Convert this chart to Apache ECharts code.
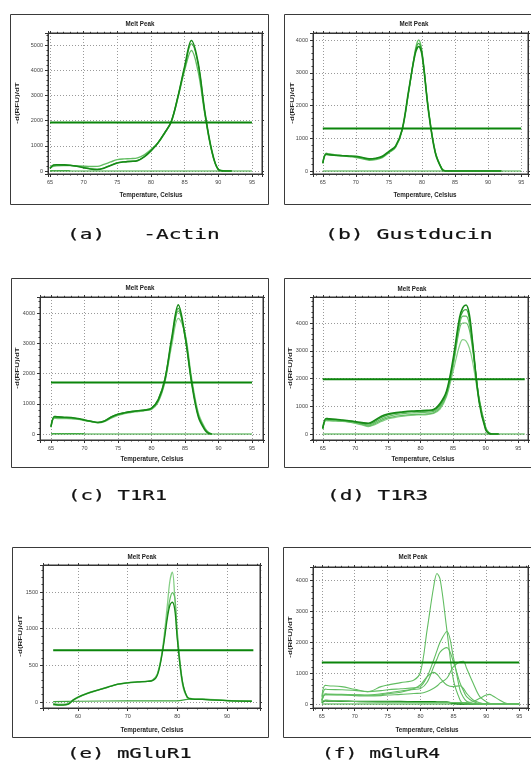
<!DOCTYPE html>
<html><head><meta charset="utf-8">
<script src="https://cdn.jsdelivr.net/npm/echarts@6/dist/echarts.min.js"></script>
<style>html,body{margin:0;padding:0;background:#fff}#c{width:531px;height:784px}</style>
</head><body><div id="c"></div>
<script>
// ---------------- texts ----------------
const panelTitle = 'Melt Peak';
const xAxisName = 'Temperature, Celsius';
const yAxisName = '-d(RFU)/dT';
const captions = ['(a)   -Actin', '(b) Gustducin', '(c) T1R1', '(d) T1R3', '(e) mGluR1', '(f) mGluR4'];

// ---------------- (a) Actin ----------------
const aTemp = [65, 65.5, 66, 67, 68, 69, 70, 71, 72, 73, 74, 75, 76, 77, 78, 79, 80, 81, 82, 83, 84, 85, 86, 87, 88, 89, 90, 91, 92];
const aCurve1 = [100, 240, 250, 245, 230, 190, 130, 80, 60, 110, 220, 320, 360, 380, 410, 560, 800, 1100, 1500, 1950, 2950, 4150, 5180, 4300, 2350, 850, 60, 0, 0];
const aCurve2 = [120, 190, 210, 215, 215, 205, 190, 180, 185, 260, 360, 450, 480, 490, 520, 640, 850, 1100, 1480, 1950, 2900, 4000, 4780, 3950, 2250, 800, 60, 10, 0];
const aCurve3 = [110, 230, 245, 240, 225, 185, 135, 90, 70, 120, 230, 330, 370, 390, 420, 570, 810, 1110, 1510, 1960, 2960, 4100, 5050, 4250, 2330, 840, 60, 5, 0];
const aNtcTemp = [65, 68];
const aNtc = [15, 15];
const aThreshold = 1920;
const aLineRange = [65, 95];

// ---------------- (b) Gustducin ----------------
const bTemp = [65, 65.5, 66, 67, 68, 69, 70, 71, 72, 73, 74, 75, 76, 77, 78, 79, 79.5, 80, 81, 82, 83, 83.5, 85, 88, 92];
const bCurve1 = [230, 520, 500, 480, 465, 460, 450, 410, 370, 390, 450, 600, 760, 1270, 2480, 3600, 3800, 3550, 1800, 560, 60, 0, 0, 0, 0];
const bCurve2 = [250, 540, 520, 490, 470, 440, 410, 370, 330, 350, 410, 560, 720, 1230, 2420, 3700, 4000, 3650, 1850, 600, 80, 10, 0, 0, 0];
const bCurve3 = [240, 500, 490, 470, 460, 450, 430, 400, 360, 380, 430, 580, 740, 1250, 2450, 3650, 3900, 3600, 1820, 580, 70, 5, 0, 0, 0];
const bThreshold = 1300;
const bLineRange = [65, 95];

// ---------------- (c) T1R1 ----------------
const cTemp = [65, 65.5, 66, 67, 68, 69, 70, 71, 72, 73, 74, 75, 76, 77, 78, 79, 80, 81, 82, 83, 84, 85, 86, 87, 88, 88.5, 89];
const cCurve1 = [240, 580, 565, 555, 545, 515, 465, 420, 380, 430, 560, 650, 700, 740, 770, 790, 850, 1120, 1800, 3150, 4270, 3250, 1680, 560, 120, 20, 0];
const cCurve2 = [250, 560, 555, 545, 535, 505, 460, 420, 385, 440, 570, 660, 710, 745, 775, 795, 860, 1150, 1830, 3100, 4150, 3200, 1700, 600, 150, 40, 0];
const cCurve3 = [220, 540, 530, 520, 515, 490, 450, 410, 375, 420, 540, 630, 690, 730, 760, 780, 830, 1080, 1750, 3050, 4060, 3300, 1750, 640, 170, 50, 5];
const cCurve4 = [230, 520, 510, 505, 500, 480, 445, 405, 370, 410, 520, 610, 670, 710, 740, 770, 810, 1050, 1700, 2900, 3820, 3350, 1850, 700, 200, 60, 10];
const cNtcTemp = [65, 70];
const cNtc = [15, 15];
const cThreshold = 1700;
const cLineRange = [65, 95];

// ---------------- (d) T1R3 ----------------
const dTemp = [65, 65.5, 66, 67, 68, 69, 70, 71, 72, 73, 74, 75, 76, 77, 78, 79, 80, 81, 82, 83, 84, 85, 86, 86.5, 87, 87.5, 88, 89, 90, 90.5, 91, 92];
const dCurve1 = [200, 560, 545, 530, 505, 480, 445, 410, 385, 500, 640, 720, 760, 790, 820, 830, 840, 850, 880, 1100, 1550, 2700, 4200, 4550, 4650, 4300, 3300, 1150, 150, 20, 0, 0];
const dCurve2 = [210, 540, 530, 515, 495, 470, 435, 395, 360, 460, 600, 690, 740, 770, 800, 810, 820, 830, 860, 1050, 1500, 2600, 4100, 4420, 4480, 4150, 3250, 1200, 180, 30, 0, 0];
const dCurve3 = [190, 520, 510, 495, 480, 455, 415, 370, 320, 410, 540, 630, 690, 720, 750, 760, 770, 785, 815, 1000, 1450, 2500, 3950, 4250, 4250, 3950, 3150, 1250, 200, 40, 5, 0];
const dCurve4 = [180, 500, 490, 480, 465, 440, 400, 350, 290, 370, 490, 580, 630, 660, 690, 700, 710, 725, 760, 950, 1400, 2450, 3800, 4000, 4000, 3750, 3050, 1300, 250, 50, 10, 0];
const dCurve5 = [170, 480, 470, 460, 450, 425, 385, 330, 265, 340, 450, 540, 590, 630, 660, 680, 690, 700, 740, 900, 1350, 2250, 3200, 3400, 3350, 3100, 2600, 1200, 250, 50, 10, 0];
const dThreshold = 1970;
const dLineRange = [65, 96];

// ---------------- (e) mGluR1 ----------------
const eTemp = [55, 56, 57, 58, 59, 60, 62, 64, 66, 68, 70, 72, 74, 75, 76, 77, 78, 78.5, 79, 79.5, 80, 81, 82, 83, 85, 88, 91, 95];
const eCurve1 = [-20, -30, -30, -20, 30, 70, 125, 165, 205, 245, 265, 275, 285, 300, 390, 720, 1330, 1650, 1770, 1400, 880, 250, 60, 40, 35, 25, 15, 10];
const eCurve2 = [-40, -45, -45, -35, 20, 60, 115, 160, 200, 240, 260, 272, 280, 295, 380, 700, 1200, 1400, 1490, 1420, 950, 300, 70, 45, 40, 30, 15, 10];
const eCurve3 = [-30, -40, -40, -30, 25, 65, 120, 162, 202, 242, 262, 273, 282, 290, 370, 680, 1150, 1320, 1360, 1250, 850, 280, 65, 40, 35, 25, 15, 10];
const eBaseTemp = [55, 60, 70, 80, 82, 85, 88, 95];
const eBase = [5, 10, 15, 15, 35, 40, 25, 10];
const eThreshold = 705;
const eLineRange = [55, 95.3];

// ---------------- (f) mGluR4 ----------------
const fTemp = [65, 65.5, 66, 68, 70, 72, 74, 75, 77, 79, 80, 81, 82, 82.5, 83, 84, 85, 86, 86.5, 87, 88, 89, 90, 90.5, 91, 92, 93, 94, 95];
const fCurve1 = [236, 600, 590, 560, 475, 400, 560, 610, 690, 775, 1040, 2390, 3790, 4210, 4000, 2390, 780, 130, 20, 0, 0, 0, 0, 0, 0, 0, 0, 0, 0];
const fCurve2 = [130, 480, 470, 460, 440, 400, 430, 460, 490, 520, 560, 880, 1420, 1720, 2010, 2340, 1500, 450, 220, 90, 10, 0, 0, 0, 0, 0, 0, 0, 0];
const fCurve3 = [75, 330, 320, 310, 300, 290, 330, 360, 420, 470, 500, 700, 1200, 1450, 1680, 1820, 1350, 680, 440, 240, 80, 10, 0, 0, 0, 0, 0, 0, 0];
const fCurve4 = [130, 300, 300, 300, 290, 280, 300, 330, 380, 500, 620, 880, 1020, 960, 830, 613, 560, 590, 505, 345, 130, 43, 0, 0, 0, 0, 0, 0, 0];
const fCurve5 = [75, 300, 300, 290, 270, 260, 270, 290, 310, 340, 345, 400, 505, 580, 680, 830, 1205, 1365, 1380, 1150, 667, 236, 75, 20, 0, 0, 0, 0, 0];
const fCurve6 = [43, 130, 120, 100, 80, 70, 60, 60, 55, 50, 45, 45, 45, 45, 45, 45, 45, 45, 45, 50, 75, 183, 290, 312, 258, 130, 20, 0, 0];
const fCurve7 = [30, 100, 95, 90, 85, 80, 80, 80, 80, 75, 75, 75, 72, 70, 70, 65, 20, 0, 0, 0, 0, 0, 0, 0, 0, 0, 0, 0, 0];
const fThreshold = 1340;
const fLineRange = [65, 95];

// ---------------- layout (positions / styles only) ----------------
const C_DARK = '#178a17', C_MID = '#3aa63a', C_LIGHT = '#62bd62', C_PALE = '#86cf86', C_THR = '#0b850b';
const layout = [
  {box:[10,14,258,190], grid:[48,33,214,141], xr:[64.70,96.49], yr:[-119,5476], xStep:5, yStep:1000, ySplit:5, title:[140,24], xName:[151,195], yName:[17,103], cap:[67,235,1.51]},
  {box:[284,14,262,190], grid:[313,33,220,141], xr:[63.52,96.03], yr:[-92,4214], xStep:5, yStep:1000, ySplit:5, title:[414,24], xName:[425,195], yName:[292,103], cap:[325,235,1.53]},
  {box:[11,278,257,189], grid:[40,297,223,143], xr:[63.36,96.64], yr:[-198,4529], xStep:5, yStep:1000, ySplit:5, title:[140,288], xName:[152,459], yName:[17,368], cap:[68,496,1.47]},
  {box:[284,278,262,189], grid:[313,297,220,143], xr:[63.5,96.5], yr:[-216,4937], xStep:5, yStep:1000, ySplit:5, title:[412,289], xName:[423,459], yName:[290,368], cap:[327,496,1.5]},
  {box:[12,547,256,190], grid:[43,565,217,143], xr:[52.95,96.64], yr:[-82,1868], xStep:10, yStep:500, ySplit:4, title:[142,557], xName:[152,730], yName:[20,636], cap:[67,754,1.48]},
  {box:[283,547,262,190], grid:[313,567,220,141], xr:[63.66,96.33], yr:[-129,4419], xStep:5, yStep:1000, ySplit:5, title:[413,557], xName:[427,730], yName:[290,637], cap:[322,754,1.40]}
];

// panel curves: [temps, values, color, width]
const panelCurves = [
  [[aNtcTemp, aNtc, C_MID, 1], [aTemp, aCurve2, C_LIGHT, 1.4], [aTemp, aCurve3, C_MID, 1.2], [aTemp, aCurve1, C_DARK, 1.6]],
  [[bTemp, bCurve2, C_LIGHT, 1.4], [bTemp, bCurve3, C_MID, 1.2], [bTemp, bCurve1, C_DARK, 1.6]],
  [[cNtcTemp, cNtc, C_MID, 1], [cTemp, cCurve4, C_PALE, 1.2], [cTemp, cCurve3, C_LIGHT, 1.2], [cTemp, cCurve2, C_MID, 1.2], [cTemp, cCurve1, C_DARK, 1.6]],
  [[dTemp, dCurve5, C_PALE, 1.2], [dTemp, dCurve4, C_LIGHT, 1.2], [dTemp, dCurve3, C_LIGHT, 1.2], [dTemp, dCurve2, C_MID, 1.2], [dTemp, dCurve1, C_DARK, 1.6]],
  [[eBaseTemp, eBase, C_MID, 1.2], [eTemp, eCurve1, C_PALE, 1.3], [eTemp, eCurve2, C_LIGHT, 1.2], [eTemp, eCurve3, C_DARK, 1.3]],
  [[fTemp, fCurve7, C_DARK, 1.4], [fTemp, fCurve6, C_LIGHT, 1.1], [fTemp, fCurve5, C_LIGHT, 1.1], [fTemp, fCurve4, C_LIGHT, 1.1], [fTemp, fCurve3, C_LIGHT, 1.1], [fTemp, fCurve2, C_LIGHT, 1.1], [fTemp, fCurve1, C_LIGHT, 1.1]]
];
const thresholds = [aThreshold, bThreshold, cThreshold, dThreshold, eThreshold, fThreshold];
const lineRanges = [aLineRange, bLineRange, cLineRange, dLineRange, eLineRange, fLineRange];
const hasBaseline = [true, true, true, true, false, true];

const FONT = '"Liberation Sans", Arial, sans-serif';
const grids = [], xAxes = [], yAxes = [], series = [], graphics = [];

function stepFormatter(step) {
  return function (v) {
    const r = v / step;
    return Math.abs(r - Math.round(r)) < 1e-6 ? String(Math.round(v)) : '';
  };
}

layout.forEach(function (L, i) {
  grids.push({left: L.grid[0], top: L.grid[1], width: L.grid[2], height: L.grid[3], show: true,
    borderColor: '#333', borderWidth: 1, backgroundColor: '#fff', containLabel: false});
  const tickStyle = {color: '#333', width: 1};
  const labelStyle = {fontSize: 5.5, color: '#444', fontFamily: FONT};
  xAxes.push({gridIndex: i, type: 'value', min: L.xr[0], max: L.xr[1], position: 'bottom',
    axisLine: {show: true, onZero: false, lineStyle: tickStyle},
    axisTick: {show: true, inside: false, length: 3, lineStyle: tickStyle},
    minorTick: {show: true, splitNumber: 5, length: 1.5, lineStyle: tickStyle},
    axisLabel: Object.assign({show: true, margin: 5, formatter: stepFormatter(L.xStep)}, labelStyle),
    splitLine: {show: true, lineStyle: {color: '#9a9a9a', type: [1, 2], width: 1}}});
  xAxes.push({gridIndex: i, type: 'value', min: L.xr[0], max: L.xr[1], position: 'top',
    axisLine: {show: true, onZero: false, lineStyle: tickStyle},
    axisTick: {show: true, inside: false, length: 2, lineStyle: tickStyle},
    minorTick: {show: true, splitNumber: 5, length: 1.2, lineStyle: tickStyle},
    axisLabel: {show: false}, splitLine: {show: false}});
  yAxes.push({gridIndex: i, type: 'value', min: L.yr[0], max: L.yr[1], splitNumber: L.ySplit, position: 'left',
    axisLine: {show: true, onZero: false, lineStyle: tickStyle},
    axisTick: {show: true, inside: false, length: 3, lineStyle: tickStyle},
    minorTick: {show: true, splitNumber: 5, length: 1.5, lineStyle: tickStyle},
    axisLabel: Object.assign({show: true, margin: 5, formatter: stepFormatter(L.yStep)}, labelStyle),
    splitLine: {show: true, lineStyle: {color: '#9a9a9a', type: [1, 2], width: 1}}});
  yAxes.push({gridIndex: i, type: 'value', min: L.yr[0], max: L.yr[1], splitNumber: L.ySplit, position: 'right',
    axisLine: {show: true, onZero: false, lineStyle: tickStyle},
    axisTick: {show: true, inside: false, length: 2, lineStyle: tickStyle},
    minorTick: {show: true, splitNumber: 5, length: 1.2, lineStyle: tickStyle},
    axisLabel: {show: false}, splitLine: {show: false}});

  const xi = i * 2, yi = i * 2;
  if (hasBaseline[i]) {
    series.push({type: 'line', xAxisIndex: xi, yAxisIndex: yi, data: [[lineRanges[i][0], 0], [lineRanges[i][1], 0]],
      showSymbol: false, symbol: 'none', lineStyle: {color: C_MID, width: 1.2}, z: 2, silent: true, animation: false});
  }
  panelCurves[i].forEach(function (cv) {
    const temps = cv[0], vals = cv[1];
    series.push({type: 'line', xAxisIndex: xi, yAxisIndex: yi,
      data: temps.map(function (t, k) { return [t, vals[k]]; }),
      showSymbol: false, symbol: 'none', smooth: 0.35,
      lineStyle: {color: cv[2], width: cv[3]}, z: 3, silent: true, animation: false});
  });
  series.push({type: 'line', xAxisIndex: xi, yAxisIndex: yi,
    data: [[lineRanges[i][0], thresholds[i]], [lineRanges[i][1], thresholds[i]]],
    showSymbol: false, symbol: 'none', lineStyle: {color: C_THR, width: 2}, z: 4, silent: true, animation: false});

  // panel frame and texts
  graphics.push({type: 'rect', shape: {x: L.box[0] + 0.5, y: L.box[1] + 0.5, width: L.box[2], height: L.box[3]},
    style: {fill: null, stroke: '#3a3a3a', lineWidth: 1}, z: -1, silent: true});
  graphics.push({type: 'text', x: L.title[0], y: L.title[1], scaleX: 0.78,
    style: {text: panelTitle, font: 'bold 8px ' + FONT, fill: '#222', textAlign: 'center', textVerticalAlign: 'middle'}, silent: true});
  graphics.push({type: 'text', x: L.xName[0], y: L.xName[1], scaleX: 0.78,
    style: {text: xAxisName, font: 'bold 8px ' + FONT, fill: '#222', textAlign: 'center', textVerticalAlign: 'middle'}, silent: true});
  graphics.push({type: 'text', x: L.yName[0], y: L.yName[1], rotation: Math.PI / 2, scaleY: 0.78,
    style: {text: yAxisName, font: 'bold 8px ' + FONT, fill: '#222', textAlign: 'center', textVerticalAlign: 'middle'}, silent: true});
  graphics.push({type: 'text', x: L.cap[0], y: L.cap[1], scaleX: L.cap[2],
    style: {text: captions[i], font: '14px "DejaVu Sans Mono", monospace', fill: '#111', stroke: '#111', lineWidth: 0.2,
      textAlign: 'left', textVerticalAlign: 'middle'}, silent: true});
});

const chart = echarts.init(document.getElementById('c'), null, {renderer: 'canvas', width: 531, height: 784});
chart.setOption({
  animation: false,
  backgroundColor: '#fff',
  grid: grids,
  xAxis: xAxes,
  yAxis: yAxes,
  series: series,
  graphic: {elements: graphics}
});
</script>
</body></html>
